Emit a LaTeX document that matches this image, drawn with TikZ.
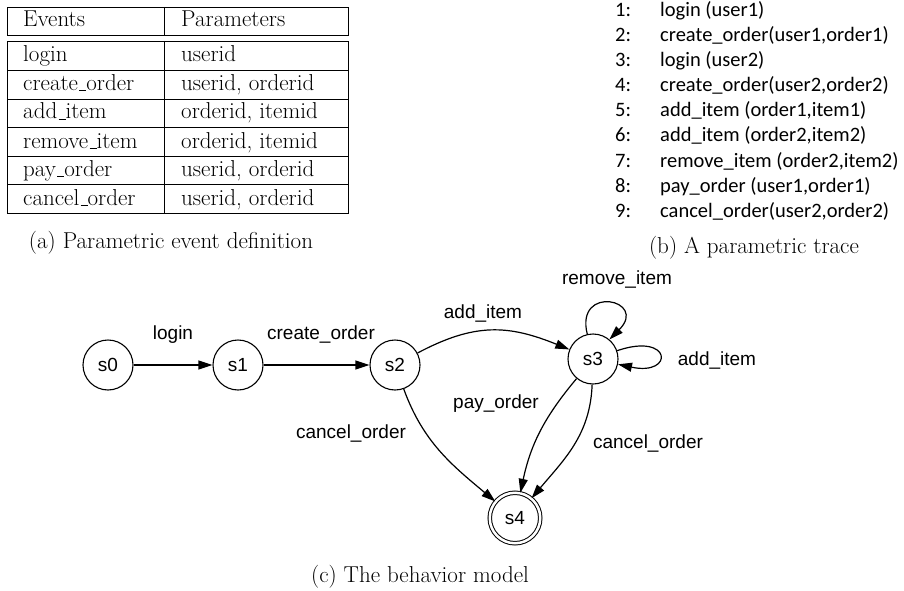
\documentclass[tikz,border=0pt]{standalone}
\usepackage{fontspec}
\usetikzlibrary{arrows.meta}
\newfontfamily\tracefont{Carlito}
\newfontfamily\graphfont{Liberation Sans}
\newcommand\lowus{\leavevmode\kern.06em\vbox{\hrule width.3em}}
\begin{document}
\begin{tikzpicture}[x=1pt,y=1pt,
  tline/.style={line width=0.8pt},
  ttext/.style={anchor=base west,inner sep=0,font=\fontsize{23}{28}\selectfont},
  caption/.style={anchor=base,inner sep=0,font=\fontsize{23}{28}\selectfont},
  trnum/.style={anchor=base west,inner sep=0,font=\tracefont\fontsize{20.5}{24}\selectfont},
  state/.style={circle,draw,line width=1.1pt,minimum size=50pt,inner sep=0,font=\graphfont\fontsize{19}{22}\selectfont},
  accstate/.style={state,double,double distance=2.5pt,line width=1pt,minimum size=50.5pt},
  edge/.style={line width=1.2pt,-{Triangle[length=14pt,width=9pt]}},
  lbl/.style={inner sep=0,font=\graphfont\fontsize{19}{22}\selectfont}
]
\useasboundingbox (0,0) rectangle (904,-591);
% table
\draw[tline] (7,-7) rectangle (348,-35);
\draw[tline] (7,-41) rectangle (348,-213);
\draw[tline] (164,-7) -- (164,-35);
\draw[tline] (164,-41) -- (164,-213);
\foreach \yy in {70,99,127,156,184} \draw[tline] (7,-\yy) -- (348,-\yy);
\node[ttext] (h1) at (23,-27) {Events};
\node[ttext] (h2) at (181,-27) {Parameters};
\node[ttext] (e1) at (23,-62) {login};
\node[ttext] (p1) at (181,-62) {userid};
\node[ttext] (e2) at (23,-90.5) {create\lowus order};
\node[ttext] (p2) at (181,-90.5) {userid, orderid};
\node[ttext] (e3) at (23,-119) {add\lowus item};
\node[ttext] (p3) at (181,-119) {orderid, itemid};
\node[ttext] (e4) at (23,-148) {remove\lowus item};
\node[ttext] (p4) at (181,-148) {orderid, itemid};
\node[ttext] (e5) at (23,-176.5) {pay\lowus order};
\node[ttext] (p5) at (181,-176.5) {userid, orderid};
\node[ttext] (e6) at (23,-205) {cancel\lowus order};
\node[ttext] (p6) at (181,-205) {userid, orderid};
\node[caption] (capa) at (171,-248) {(a) Parametric event definition};
% trace
\foreach \i/\t in {1/{login (user1)},2/{create\_order(user1,order1)},3/{login (user2)},4/{create\_order(user2,order2)},5/{add\_item (order1,item1)},6/{add\_item (order2,item2)},7/{remove\_item (order2,item2)},8/{pay\_order (user1,order1)},9/{cancel\_order(user2,order2)}}{
  \node[trnum] (n\i) at (615,{-17-25*(\i-1)}) {\i:};
  \node[trnum] (t\i) at (660,{-17-25*(\i-1)}) {\t};
}
\node[caption] (capb) at (754,-253) {(b) A parametric trace};
% graph
\node[state] (s0) at (108,-365) {s0};
\node[state] (s1) at (238,-365) {s1};
\node[state] (s2) at (395,-365) {s2};
\node[state] (s3) at (593,-359) {s3};
\node[accstate] (s4) at (515,-518) {s4};
\draw[edge] (s0) -- (s1);
\draw[edge] (s1) -- (s2);
\draw[edge] (s2) to[out=28,in=158,looseness=1.1] (s3);
\draw[edge] (s2) to[out=-70,in=140] (s4);
\draw[edge] (s3) to[out=-130,in=78] (s4);
\draw[edge] (s3) to[out=-92,in=50] (s4);
\draw[edge] (s3.103) .. controls +(104:52) and +(45:56) .. (s3.50);
\draw[edge] (s3.19) .. controls +(19:58) and +(-12:58) .. (s3.-12);
\node[lbl] (l1) at (173,-335) {login};
\node[lbl] (l2) at (321,-335) {create\_order};
\node[lbl] (l3) at (483,-314) {add\_item};
\node[lbl] (l4) at (617,-280) {remove\_item};
\node[lbl] (l5) at (717,-361) {add\_item};
\node[lbl] (l6) at (496,-404) {pay\_order};
\node[lbl] (l7) at (351,-433) {cancel\_order};
\node[lbl] (l8) at (648,-443) {cancel\_order};
\node[caption] (capc) at (420,-582) {(c) The behavior model};
\end{tikzpicture}
\end{document}
